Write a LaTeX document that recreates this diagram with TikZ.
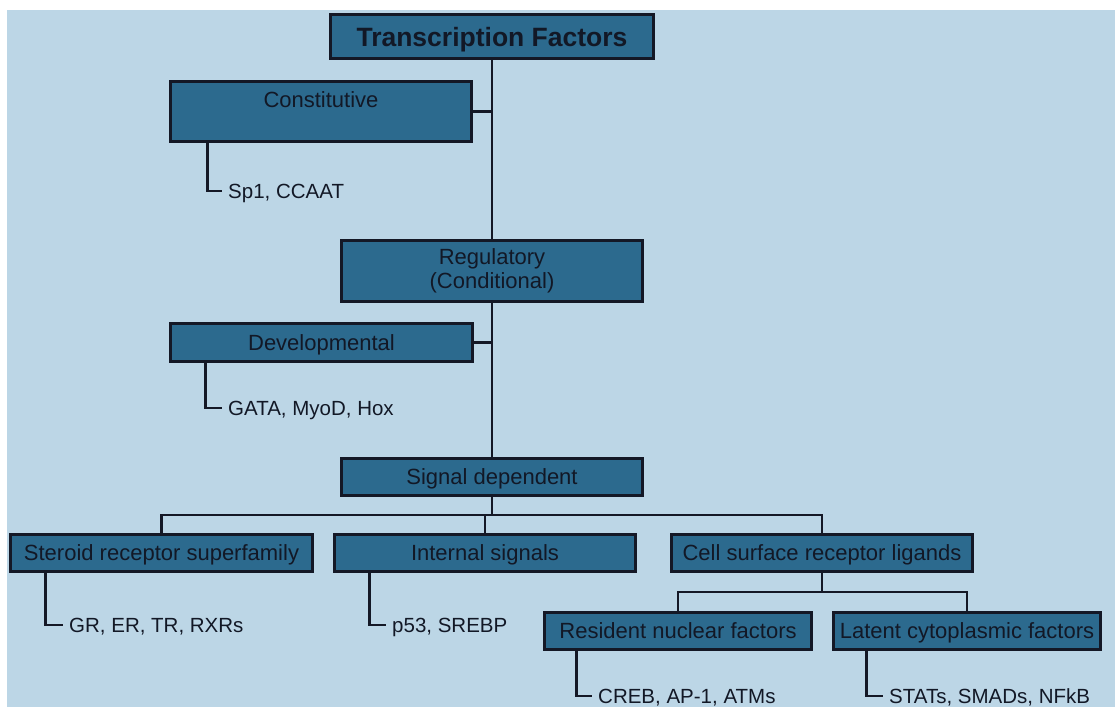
\documentclass[tikz,border=0pt]{standalone}
\usepackage{fontspec}
\setmainfont{Liberation Sans}
\definecolor{bgc}{RGB}{188,214,230}
\definecolor{boxc}{RGB}{44,106,142}
\definecolor{linec}{RGB}{20,24,38}
\definecolor{txtc}{RGB}{18,24,38}
\begin{document}
\begin{tikzpicture}[x=1pt,y=-1pt,
  box/.style={draw=linec, line width=3.2pt, fill=boxc, text=txtc, inner xsep=2pt, inner ysep=0pt,
    font=\fontsize{22}{24}\selectfont},
  oneline/.style={text height=15.8pt, text depth=0pt},
  leaf/.style={anchor=west, inner xsep=6pt, inner ysep=0pt, text=txtc,
    font=\fontsize{20.5}{24}\selectfont, text height=14.7pt, text depth=0pt},
  conn/.style={draw=linec, line width=2.9pt}]
\useasboundingbox (0,0) rectangle (1115,707);
\fill[white] (0,0) rectangle (1115,707);
\fill[bgc] (7,10) rectangle (1115,707);

% boxes
\node[box, oneline, minimum width=323, minimum height=44, font=\fontsize{26.5}{30}\selectfont\bfseries, text height=19pt] (title) at (492,36.5) {Transcription Factors};
\node[box, minimum width=301, minimum height=60, text height=16pt, text depth=24pt] (const) at (321,111.5) {Constitutive};
\node[box, align=center, minimum width=301, minimum height=61] (reg) at (492,271) {Regulatory\\(Conditional)};
\node[box, oneline, minimum width=302, minimum height=38] (dev) at (321.5,342.5) {Developmental};
\node[box, oneline, minimum width=301, minimum height=37] (sig) at (492,477) {Signal dependent};
\node[box, oneline, minimum width=302, minimum height=37] (steroid) at (161.5,553) {Steroid receptor superfamily};
\node[box, oneline, minimum width=301, minimum height=37] (internal) at (485,553) {Internal signals};
\node[box, oneline, minimum width=301, minimum height=37] (cell) at (822,553) {Cell surface receptor ligands};
\node[box, oneline, minimum width=267, minimum height=37] (resident) at (678,631) {Resident nuclear factors};
\node[box, oneline, minimum width=267, minimum height=37] (latent) at (967,631) {Latent cytoplasmic factors};

% leaves
\node[leaf] (sp1) at (222,191) {Sp1, CCAAT};
\node[leaf] (gata) at (222,408) {GATA, MyoD, Hox};
\node[leaf] (gr) at (63,625) {GR, ER, TR, RXRs};
\node[leaf] (p53) at (386,625) {p53, SREBP};
\node[leaf] (creb) at (592,696) {CREB, AP-1, ATMs};
\node[leaf] (stats) at (883,696) {STATs, SMADs, NFkB};

% connectors
\draw[conn] (title.south) -- (reg.north);
\draw[conn] (reg.south) -- (sig.north);
\draw[conn] (const.east) -- (const.east -| title.south);
\draw[conn] (dev.east) -- (dev.east -| reg.south);
\coordinate (bus) at (492,515);
\draw[conn] (sig.south) -- (bus);
\draw[conn] (steroid.north) |- (bus) -| (cell.north);
\draw[conn] (internal.north) -- (internal.north |- bus);
\coordinate (bus2) at (822,592);
\draw[conn] (cell.south) -- (bus2);
\draw[conn] (resident.north) |- (bus2) -| (latent.north);

\draw[conn] ([xshift=39pt]const.south west) |- (sp1.west);
\draw[conn] ([xshift=37pt]dev.south west) |- (gata.west);
\draw[conn] ([xshift=37pt]steroid.south west) |- (gr.west);
\draw[conn] ([xshift=37pt]internal.south west) |- (p53.west);
\draw[conn] ([xshift=34pt]resident.south west) |- (creb.west);
\draw[conn] ([xshift=35pt]latent.south west) |- (stats.west);
\end{tikzpicture}
\end{document}
